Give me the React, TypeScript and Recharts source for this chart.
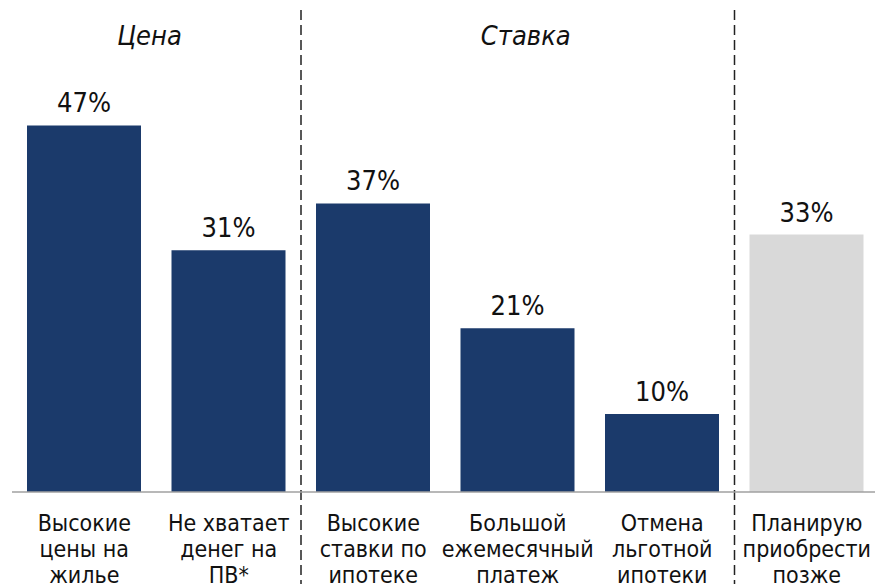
import React from 'react';
import { BarChart, Bar, XAxis, YAxis, Cell, LabelList, ReferenceLine, ReferenceArea } from 'recharts';

const categories: string[][] = [
  ['Высокие', 'цены на', 'жилье'],
  ['Не хватает', 'денег на', 'ПВ*'],
  ['Высокие', 'ставки по', 'ипотеке'],
  ['Большой', 'ежемесячный', 'платеж'],
  ['Отмена', 'льготной', 'ипотеки'],
  ['Планирую', 'приобрести', 'позже'],
];
const values: number[] = [47, 31, 37, 21, 10, 33];
const groups: string[] = ['price', 'price', 'rate', 'rate', 'rate', 'later'];
// title, first category index, last category index, small horizontal nudge
const groupTitles = [
  { title: 'Цена', from: 0, to: 1, dx: -7 },
  { title: 'Ставка', from: 2, to: 4, dx: 8 },
];
// group separators are drawn at the start of these categories
const groupStarts: number[] = [2, 5];

const data = categories.map((lines, i) => ({
  key: lines.join(' '),
  lines,
  value: values[i],
  group: groups[i],
}));

const FONT = "'DejaVu Sans Condensed', 'DejaVu Sans', sans-serif";
const NAVY = '#1b3a6b';
const GRAY = '#d9d9d9';

const Tick = (props: any) => {
  const { x, y, payload } = props;
  const item = data.find((d) => d.key === payload.value);
  const lines = item ? item.lines : [String(payload.value)];
  return (
    <text x={x} y={y} textAnchor="middle" fontFamily={FONT} fontSize={23} fill="#111">
      {lines.map((l, i) => (
        <tspan key={i} x={x} y={y + 39 + i * 26}>
          {l}
        </tspan>
      ))}
    </text>
  );
};

export default function App() {
  return (
    <div style={{ position: 'absolute', left: 0, top: 0, width: 875, height: 584, overflow: 'hidden', background: '#fff' }}>
      <BarChart
        width={880}
        height={584}
        data={data}
        margin={{ top: 24, right: 1, bottom: 0, left: 12 }}
        barCategoryGap={0}
      >
        <XAxis
          dataKey="key"
          type="category"
          height={92}
          tick={<Tick />}
          tickLine={false}
          tickSize={0}
          tickMargin={0}
          interval={0}
          axisLine={{ stroke: '#a0a0a0', strokeWidth: 1.5 }}
        />
        <YAxis domain={[0, 60]} hide />
        {groupStarts.map((b) => (
          <ReferenceLine
            key={b}
            segment={[
              { x: data[b].key, y: 61.8 },
              { x: data[b].key, y: -14 },
            ]}
            position="start"
            ifOverflow="visible"
            stroke="#222"
            strokeWidth={1.5}
            strokeDasharray="10 5"
          />
        ))}
        {groupTitles.map((g) => (
          <ReferenceArea
            key={g.title}
            x1={data[g.from].key}
            x2={data[g.to].key}
            y1={57.5}
            y2={59.5}
            fill="none"
            stroke="none"
            ifOverflow="visible"
            label={{
              value: g.title,
              position: 'center',
              dx: g.dx,
              fontFamily: FONT,
              fontSize: 27,
              fontStyle: 'italic',
              fill: '#111',
            }}
          />
        ))}
        <Bar dataKey="value" barSize={114} isAnimationActive={false}>
          {data.map((d, i) => (
            <Cell key={i} fill={d.group === 'later' ? GRAY : NAVY} />
          ))}
          <LabelList
            dataKey="value"
            position="top"
            offset={13}
            formatter={(v: any) => `${v}%`}
            style={{ fontFamily: FONT, fontSize: 27, fill: '#111' }}
          />
        </Bar>
      </BarChart>
    </div>
  );
}
